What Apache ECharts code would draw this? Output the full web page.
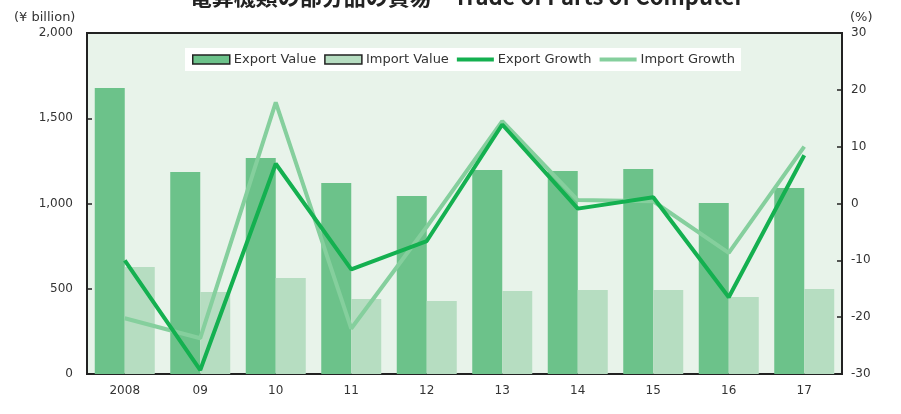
<!DOCTYPE html>
<html><head><meta charset="utf-8">
<script src="https://cdn.jsdelivr.net/npm/echarts@6/dist/echarts.min.js"></script>
<style>html,body{margin:0;padding:0;background:#fff}#c{width:901px;height:414px}</style>
</head><body><div id="c"></div>
<script>
var categories = ['2008','09','10','11','12','13','14','15','16','17'];
var exportValue = [1678, 1185, 1267, 1120, 1044, 1196, 1190, 1202, 1003, 1091];
var importValue = [628, 481, 563, 440, 428, 487, 493, 493, 452, 499];
var exportGrowth = [-10.0, -29.3, 7.0, -11.6, -6.6, 13.9, -0.9, 1.1, -16.5, 8.5];
var importGrowth = [-20.2, -23.7, 17.8, -22.0, -4.1, 14.5, 0.6, 0.4, -8.7, 10.0];
var leftTicks = [0, 500, 1000, 1500, 2000];
var rightTicks = [-30, -20, -10, 0, 10, 20, 30];

var FONT = 'DejaVu Sans';
var LINE_ICON = 'path://M0 0H37V4H0Z';
var chart = echarts.init(document.getElementById('c'));
chart.setOption({
  animation: false,
  textStyle: {fontFamily: FONT},
  title: {
    text: '電算機類の部分品の貿易　Trade of Parts of Computer',
    left: 462, textAlign: 'center', top: -19,
    textStyle: {fontFamily: '"Noto Sans CJK JP", ' + FONT, fontSize: 22, fontWeight: 'bold', color: '#222'}
  },
  graphic: [
    {type: 'text', left: 14, top: 11, style: {text: '(¥ billion)', fill: '#333', font: '13px ' + FONT}},
    {type: 'text', left: 850, top: 11, style: {text: '(%)', fill: '#333', font: '13px ' + FONT}}
  ],
  legend: {
    left: 185, top: 48,
    backgroundColor: '#fff',
    padding: [5, 6, 5, 7],
    itemWidth: 37, itemHeight: 9, itemGap: 8,
    textStyle: {fontFamily: FONT, fontSize: 13, color: '#333', padding: [0, 0, 0, -1]},
    data: [
      {name: 'Export Value', icon: 'rect', itemStyle: {borderColor: '#222', borderWidth: 1.5}},
      {name: 'Import Value', icon: 'rect', itemStyle: {borderColor: '#222', borderWidth: 1.5}},
      {name: 'Export Growth', icon: LINE_ICON, itemStyle: {color: '#14b050', borderWidth: 0}},
      {name: 'Import Growth', icon: LINE_ICON, itemStyle: {color: '#85cf9d', borderWidth: 0}}
    ]
  },
  grid: {
    left: 87, right: 59, top: 33, bottom: 40,
    show: true, backgroundColor: '#e8f3ea', borderColor: '#222', borderWidth: 2
  },
  xAxis: {
    type: 'category', data: categories,
    axisLine: {lineStyle: {color: '#222', width: 2}},
    axisTick: {inside: true, length: 5, lineStyle: {color: '#222', width: 1.5}},
    axisLabel: {color: '#333', fontSize: 12, margin: 11}
  },
  yAxis: [
    {
      type: 'value', min: 0, max: 2000, interval: 500,
      axisLine: {show: true, lineStyle: {color: '#222', width: 2}},
      axisTick: {show: true, inside: true, length: 5, lineStyle: {color: '#222', width: 1.5}},
      splitLine: {show: false},
      axisLabel: {color: '#333', fontSize: 12, margin: 14,
        formatter: function (v) { return leftTicks.indexOf(v) >= 0 ? v.toLocaleString('en-US') : ''; }}
    },
    {
      type: 'value', min: -30, max: 30, interval: 10,
      axisLine: {show: true, lineStyle: {color: '#222', width: 2}},
      axisTick: {show: true, inside: true, length: 5, lineStyle: {color: '#222', width: 1.5}},
      splitLine: {show: false},
      axisLabel: {color: '#333', fontSize: 12, margin: 9,
        formatter: function (v) { return rightTicks.indexOf(v) >= 0 ? String(v) : ''; }}
    }
  ],
  series: [
    {name: 'Export Value', type: 'bar', data: exportValue, barWidth: 30, barGap: '0%',
      itemStyle: {color: '#6cc28a'}},
    {name: 'Import Value', type: 'bar', data: importValue, barWidth: 30, barGap: '0%',
      itemStyle: {color: '#b6ddc1'}},
    {name: 'Export Growth', type: 'line', yAxisIndex: 1, data: exportGrowth, symbol: 'none',
      lineStyle: {color: '#14b050', width: 4}, itemStyle: {color: '#14b050'}, z: 5},
    {name: 'Import Growth', type: 'line', yAxisIndex: 1, data: importGrowth, symbol: 'none',
      lineStyle: {color: '#85cf9d', width: 4}, itemStyle: {color: '#85cf9d'}, z: 4}
  ]
});
</script></body></html>
